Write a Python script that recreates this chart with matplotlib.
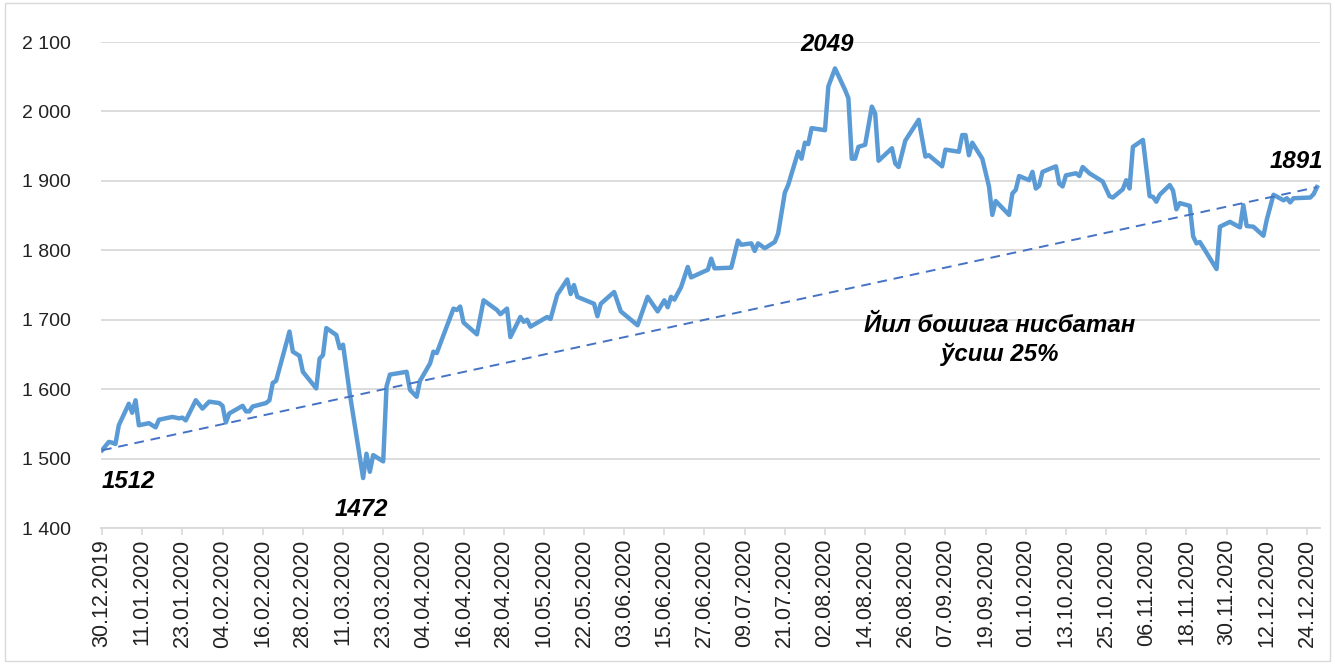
import numpy as np
import pandas as pd
import matplotlib
matplotlib.use('Agg')
import matplotlib.pyplot as plt
import matplotlib.dates as mdates
from matplotlib.ticker import FuncFormatter, MultipleLocator

plt.rcParams['font.family'] = ['Liberation Sans', 'DejaVu Sans']

#%% data (days counted from 30.12.2019)

start = pd.Timestamp('2019-12-30')

days = [0, 2, 3, 4, 5, 8, 9, 10, 11, 14, 16, 17, 21, 23, 24, 25, 28, 30, 32, 35,
        36, 37, 38, 42, 43, 44, 45, 49, 50, 51, 52, 56, 57, 59, 60, 64, 65, 66, 67, 70,
        71, 72, 74, 78, 79, 80, 81, 84, 85, 86, 91, 92, 94, 95, 98, 99, 100, 105, 106, 107,
        108, 112, 114, 118, 119, 121, 122, 125, 126, 127, 128, 133, 134, 136, 139, 140, 141, 142, 147, 148,
        149, 153, 155, 156, 160, 163, 166, 168, 169, 170, 171, 173, 175, 176, 181, 182, 183, 188, 190, 191,
        194, 195, 196, 198, 201, 202, 204, 205, 208, 209, 210, 211, 212, 216, 217, 219, 222, 223, 224, 225,
        226, 228, 230, 231, 232, 236, 237, 238, 240, 244, 246, 247, 249, 251, 252, 256, 257, 258, 259, 260,
        263, 265, 266, 267, 271, 272, 273, 274, 277, 278, 279, 280, 281, 285, 286, 287, 288, 291, 292, 293,
        295, 299, 301, 302, 305, 306, 307, 308, 311, 313, 314, 315, 316, 319, 320, 321, 322, 325, 326, 327,
        328, 333, 334, 337, 340, 341, 342, 344, 347, 348, 350, 353, 354, 355, 356, 361, 362, 363]

price = [1512, 1524, 1523, 1521, 1548, 1579, 1566, 1584, 1548, 1551, 1545, 1556, 1560, 1558, 1559, 1555, 1584, 1572, 1582, 1580,
         1576, 1552, 1565, 1576, 1568, 1568, 1575, 1580, 1584, 1609, 1612, 1683, 1654, 1648, 1625, 1601, 1644, 1649, 1688, 1678,
         1659, 1664, 1594, 1472, 1507, 1481, 1505, 1496, 1604, 1621, 1625, 1599, 1589, 1612, 1637, 1654, 1652, 1716, 1714, 1719,
         1696, 1679, 1728, 1714, 1708, 1716, 1675, 1704, 1697, 1700, 1690, 1704, 1701, 1736, 1758, 1737, 1750, 1733, 1723, 1705,
         1723, 1740, 1712, 1708, 1692, 1733, 1712, 1728, 1718, 1733, 1729, 1747, 1776, 1761, 1772, 1788, 1774, 1775, 1814, 1808,
         1810, 1799, 1810, 1803, 1812, 1824, 1883, 1894, 1942, 1932, 1955, 1953, 1976, 1973, 2036, 2062, 2031, 2019, 1932, 1932,
         1949, 1952, 2007, 1997, 1929, 1947, 1925, 1920, 1958, 1988, 1935, 1937, 1929, 1921, 1945, 1942, 1966, 1966, 1937, 1955,
         1932, 1892, 1851, 1871, 1851, 1882, 1887, 1907, 1901, 1913, 1889, 1893, 1913, 1921, 1896, 1892, 1908, 1911, 1907, 1920,
         1911, 1899, 1878, 1876, 1888, 1901, 1889, 1949, 1959, 1878, 1877, 1870, 1880, 1894, 1886, 1859, 1868, 1864, 1820, 1810,
         1812, 1773, 1834, 1841, 1833, 1865, 1835, 1834, 1821, 1844, 1880, 1872, 1875, 1869, 1875, 1876, 1881, 1891]

# labelled points: index into the series, text
note_idx = [0, 43, 115, len(price) - 1]
note_txt = ['1512', '1472', '2049', '1891']
note_off = [(0, -20), (-2, -20), (-8, 12), (6, 14)]
note_ha = ['left', 'center', 'center', 'right']
note_va = ['top', 'top', 'bottom', 'bottom']

growth_txt = 'Йил бошига нисбатан\nўсиш 25%'

dates = start + pd.to_timedelta(days, unit='D')
tick_dates = pd.date_range(start, periods=31, freq='12D')

#%% plot

fig = plt.figure(figsize=(13.35, 6.64), dpi=100)
ax = fig.add_axes([0.0757, 0.2048, 0.9133, 0.7319])

ax.plot(dates, price, color='#5B9BD5', lw=3.2, solid_joinstyle='round', zorder=3)
ax.plot([dates[0], dates[-1]], [price[0], price[-1]], color='#4472C4', lw=1.4,
        dashes=(5, 3.5), zorder=4)

for i, t, off, ha, va in zip(note_idx, note_txt, note_off, note_ha, note_va):
    ax.annotate(t, (dates[i], price[i]), xytext=off, textcoords='offset pixels',
                ha=ha, va=va, fontsize=17.3, fontweight='bold', fontstyle='italic')

ax.text(0.737, 0.387, growth_txt, transform=ax.transAxes, ha='center', va='center',
        fontsize=17.3, fontweight='bold', fontstyle='italic', linespacing=1.3)

ax.set_ylim(1400, 2100)
ax.yaxis.set_major_locator(MultipleLocator(100))
ax.yaxis.set_major_formatter(FuncFormatter(lambda v, p: f'{int(v):,}'.replace(',', ' ')))
ax.set_xlim(start - pd.Timedelta(days=0.3), start + pd.Timedelta(days=364))
ax.set_xticks(tick_dates)
ax.xaxis.set_major_formatter(mdates.DateFormatter('%d.%m.%Y'))
plt.setp(ax.get_xticklabels(), rotation=90)

ax.grid(axis='y', color='#D9D9D9', lw=1.3)
ax.set_axisbelow(True)
for s in ['left', 'right', 'top']:
    ax.spines[s].set_visible(False)
ax.spines['bottom'].set_color('#D9D9D9')
ax.spines['bottom'].set_linewidth(1.3)
ax.tick_params(axis='y', length=0, pad=22, labelsize=14, labelcolor='#222222')
ax.tick_params(axis='x', length=5, width=1.2, color='#D9D9D9', pad=3,
               labelsize=15.5, labelcolor='#222222')

# chart frame
fig.patches.append(plt.Rectangle((0.004, 0.004), 0.992, 0.992, transform=fig.transFigure,
                                 fill=False, edgecolor='#D9D9D9', lw=1))

fig.savefig('out.png', dpi=100)
plt.close()
